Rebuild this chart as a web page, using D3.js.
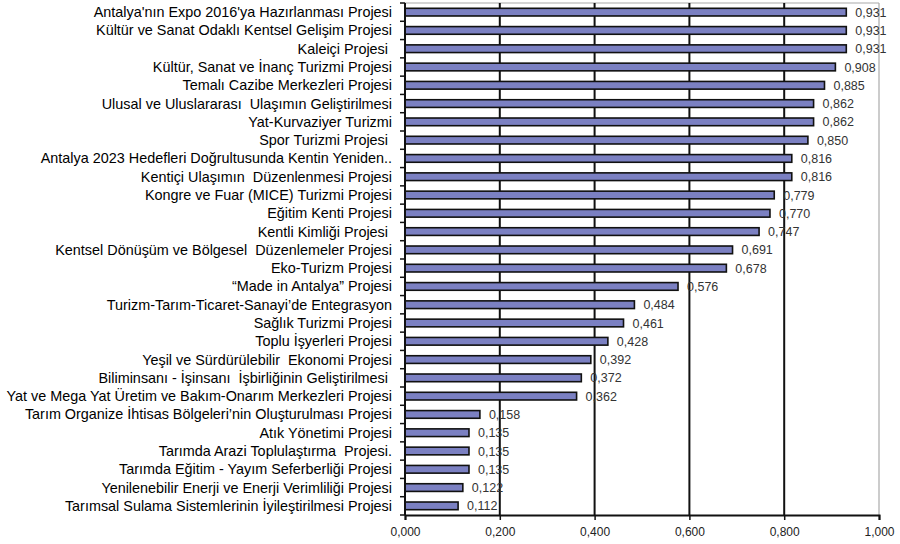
<!DOCTYPE html>
<html><head><meta charset="utf-8">
<script src="https://cdn.jsdelivr.net/npm/d3@7"></script>
<style>
body{margin:0;background:#fff;}
svg text{font-family:"Liberation Sans",Arial,sans-serif;white-space:pre;}
</style></head>
<body><svg id="c" width="900" height="544"></svg>
<script>
const categories = [
"Antalya'nın Expo 2016'ya Hazırlanması Projesi",
"Kültür ve Sanat Odaklı Kentsel Gelişim Projesi",
"Kaleiçi Projesi ",
"Kültür, Sanat ve İnanç Turizmi Projesi",
"Temalı Cazibe Merkezleri Projesi",
"Ulusal ve Uluslararası  Ulaşımın Geliştirilmesi",
"Yat-Kurvaziyer Turizmi",
"Spor Turizmi Projesi ",
"Antalya 2023 Hedefleri Doğrultusunda Kentin Yeniden..",
"Kentiçi Ulaşımın  Düzenlenmesi Projesi",
"Kongre ve Fuar (MICE) Turizmi Projesi",
"Eğitim Kenti Projesi",
"Kentli Kimliği Projesi ",
"Kentsel Dönüşüm ve Bölgesel  Düzenlemeler Projesi",
"Eko-Turizm Projesi",
"“Made in Antalya” Projesi",
"Turizm-Tarım-Ticaret-Sanayi’de Entegrasyon",
"Sağlık Turizmi Projesi",
"Toplu İşyerleri Projesi",
"Yeşil ve Sürdürülebilir  Ekonomi Projesi",
"Biliminsanı - İşinsanı  İşbirliğinin Geliştirilmesi ",
"Yat ve Mega Yat Üretim ve Bakım-Onarım Merkezleri Projesi",
"Tarım Organize İhtisas Bölgeleri’nin Oluşturulması Projesi",
"Atık Yönetimi Projesi",
"Tarımda Arazi Toplulaştırma  Projesi.",
"Tarımda Eğitim - Yayım Seferberliği Projesi",
"Yenilenebilir Enerji ve Enerji Verimliliği Projesi",
"Tarımsal Sulama Sistemlerinin İyileştirilmesi Projesi"
];
const values = [0.931,0.931,0.931,0.908,0.885,0.862,0.862,0.850,0.816,0.816,0.779,0.770,0.747,0.691,0.678,0.576,0.484,0.461,0.428,0.392,0.372,0.362,0.158,0.135,0.135,0.135,0.122,0.112];
const xTicks = [0,0.2,0.4,0.6,0.8,1.0];
const fmt = v => d3.format(".3f")(v).replace(".", ",");

const svg = d3.select("#c");
const pL = 405, pR = 879, pT = 3, pB = 515;
const x = d3.scaleLinear().domain([0,1]).range([pL,pR]);
const y = d3.scaleBand().domain(categories).range([pT,pB]).paddingInner(0.58).paddingOuter(0.29);

svg.append("line").attr("x1",pL).attr("x2",pR).attr("y1",pT).attr("y2",pT).attr("stroke","#aaa").attr("stroke-width",1.2);
svg.append("line").attr("x1",pR).attr("x2",pR).attr("y1",pT).attr("y2",pB).attr("stroke","#aaa").attr("stroke-width",1.2);

svg.append("g").selectAll("line").data(xTicks.filter(t=>t>0 && t<1)).join("line")
  .attr("x1",d=>x(d)).attr("x2",d=>x(d)).attr("y1",pT).attr("y2",pB)
  .attr("stroke","#111").attr("stroke-width",2);

svg.append("g").selectAll("text").data(values).join("text")
  .attr("x",d=>x(d)+9).attr("y",(d,i)=>y(categories[i])+y.bandwidth()/2+4.5)
  .attr("font-size",12.5).attr("fill","#333").text(d=>fmt(d));

svg.append("g").selectAll("rect").data(values).join("rect")
  .attr("x",x(0)).attr("y",(d,i)=>y(categories[i]))
  .attr("width",d=>x(d)-x(0)).attr("height",y.bandwidth())
  .attr("fill","#7b80c2").attr("stroke","#111").attr("stroke-width",1.6);

const yAxis = svg.append("g").attr("transform",`translate(${pL},0)`);
yAxis.append("line").attr("x1",0).attr("x2",0).attr("y1",pT).attr("y2",pB).attr("stroke","#111").attr("stroke-width",2);
yAxis.selectAll("line.tk").data(d3.range(categories.length+1)).join("line").attr("class","tk")
  .attr("x1",-5).attr("x2",0).attr("y1",i=>pT+i*(pB-pT)/categories.length).attr("y2",i=>pT+i*(pB-pT)/categories.length)
  .attr("stroke","#111").attr("stroke-width",1.5);
svg.append("g").selectAll("text").data(categories).join("text")
  .attr("x",392).attr("y",d=>y(d)+y.bandwidth()/2+5)
  .attr("text-anchor","end").attr("font-size",14.4).attr("fill","#000").text(d=>d);

const xAxis = d3.axisBottom(x).tickValues(xTicks).tickFormat(fmt).tickSize(5);
const gx = svg.append("g").attr("transform",`translate(0,${pB})`).call(xAxis);
gx.select(".domain").attr("stroke","#111").attr("stroke-width",2);
gx.selectAll(".tick line").attr("stroke","#111").attr("stroke-width",1.5);
gx.selectAll(".tick text").attr("font-size",12).attr("fill","#222").attr("dy","1.1em").attr("font-family","Liberation Sans, Arial, sans-serif");
</script></body></html>
